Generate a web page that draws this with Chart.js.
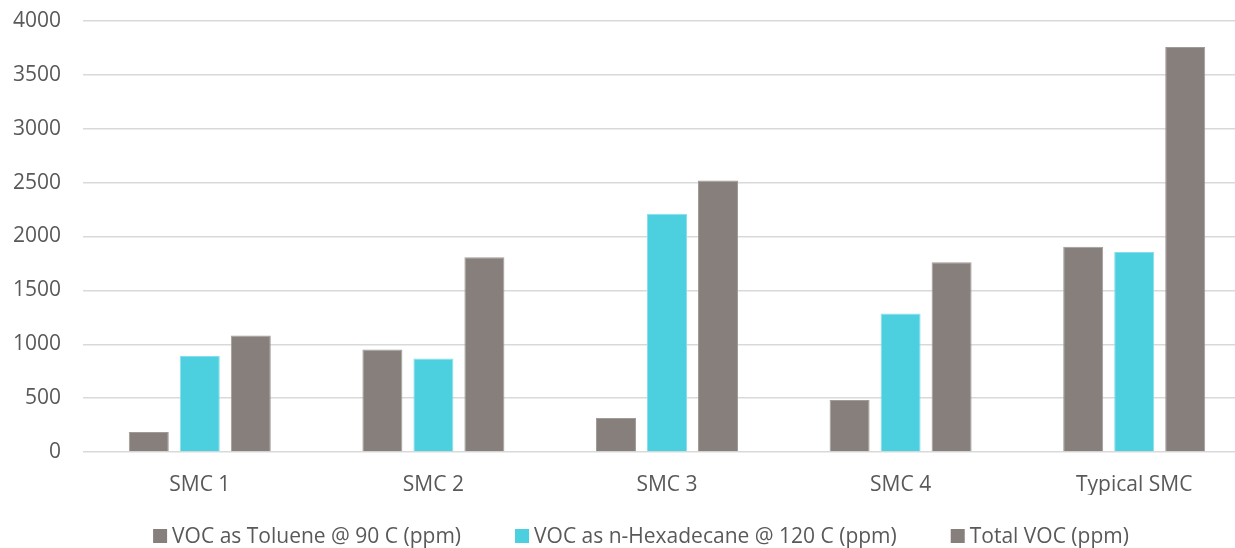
<!DOCTYPE html>
<html>
<head>
<meta charset="utf-8">
<title>VOC emissions of SMC grades</title>
<script src="https://cdn.jsdelivr.net/npm/chart.js@4/dist/chart.umd.min.js"></script>
<style>
  html, body { margin: 0; padding: 0; background: #ffffff; overflow: hidden; }
  #wrap { width: 1252px; height: 548px; }
</style>
</head>
<body>
<div id="wrap"><canvas id="voc" width="1252" height="548"></canvas></div>
<script>
// Categories and measured VOC values (ppm)
const categories = ['SMC 1', 'SMC 2', 'SMC 3', 'SMC 4', 'Typical SMC'];
const tolueneVOC = [186, 951, 316, 483, 1904];
const hexadecaneVOC = [892, 867, 2210, 1285, 1857];
const totalVOC = [1081, 1808, 2520, 1762, 3758];

const seriesNames = [
  'VOC as Toluene @ 90 C (ppm)',
  'VOC as n-Hexadecane @ 120 C (ppm)',
  'Total VOC (ppm)'
];

// Value axis range
const yMin = 0;
const yMax = 4000;
const yStep = 500;

const GRAY = '#877f7b';
const CYAN = '#4ccfdf';
const TEXT = '#595959';
const FONT = '"Open Sans", "DejaVu Sans", sans-serif';
const FONT_SIZE = 21;

// Legend drawn along the bottom edge, centred under the chart
const bottomLegend = {
  id: 'bottomLegend',
  afterDraw(chart) {
    const ctx = chart.ctx;
    const box = 14, gap = 5, spacing = 54;
    ctx.save();
    ctx.font = FONT_SIZE + 'px ' + FONT;
    ctx.textBaseline = 'middle';
    const items = chart.data.datasets.map(ds => ({
      label: ds.label,
      color: ds.backgroundColor,
      w: box + gap + ctx.measureText(ds.label).width
    }));
    const total = items.reduce((s, it) => s + it.w, 0) + spacing * (items.length - 1);
    let x = 641 - total / 2;
    const y = 536;
    items.forEach(it => {
      ctx.fillStyle = it.color;
      ctx.fillRect(x, y - box / 2, box, box);
      ctx.fillStyle = TEXT;
      ctx.fillText(it.label, x + box + gap, y + 1);
      x += it.w + spacing;
    });
    ctx.restore();
  }
};

const barStyle = (color, edge) => ({
  backgroundColor: color,
  borderColor: edge,
  borderWidth: 1,
  categoryPercentage: 0.655,
  barPercentage: 0.784
});

new Chart(document.getElementById('voc'), {
  type: 'bar',
  data: {
    labels: categories,
    datasets: [
      Object.assign({ label: seriesNames[0], data: tolueneVOC }, barStyle(GRAY, '#a19b98')),
      Object.assign({ label: seriesNames[1], data: hexadecaneVOC }, barStyle(CYAN, '#86dfe9')),
      Object.assign({ label: seriesNames[2], data: totalVOC }, barStyle(GRAY, '#a19b98'))
    ]
  },
  options: {
    responsive: false,
    devicePixelRatio: 1,
    animation: false,
    layout: { padding: { top: 21, right: 1, bottom: 53, left: 0 } },
    plugins: {
      legend: { display: false },
      tooltip: { enabled: false }
    },
    scales: {
      x: {
        grid: { display: false, drawTicks: false },
        border: { display: false },
        ticks: { color: TEXT, font: { family: FONT, size: FONT_SIZE }, padding: 20 },
        afterFit(scale) {
          scale.height = 43;
          scale.paddingLeft = 0;
          scale.paddingRight = 0;
        }
      },
      y: {
        min: yMin,
        max: yMax,
        ticks: {
          stepSize: yStep,
          color: TEXT,
          font: { family: FONT, size: FONT_SIZE },
          padding: 22,
          callback: v => String(v)
        },
        grid: { color: '#d9d9d9', lineWidth: 1.5, drawTicks: false },
        border: { display: false },
        afterFit(scale) {
          scale.width = 83;
          scale.paddingTop = 0;
          scale.paddingBottom = 0;
        }
      }
    }
  },
  plugins: [bottomLegend]
});
</script>
</body>
</html>
